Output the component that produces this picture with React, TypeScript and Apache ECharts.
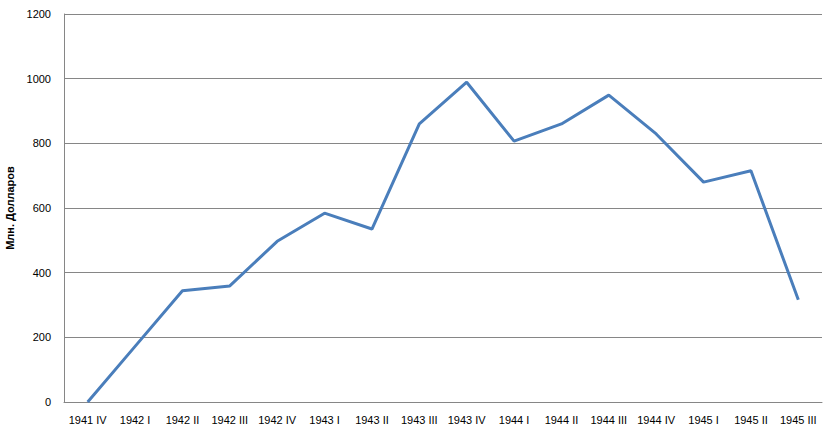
import React, { useEffect, useRef } from "react";
import * as echarts from "echarts";

const categories = [
  "1941 IV", "1942 I", "1942 II", "1942 III", "1942 IV",
  "1943 I", "1943 II", "1943 III", "1943 IV",
  "1944 I", "1944 II", "1944 III", "1944 IV",
  "1945 I", "1945 II", "1945 III",
];
const values = [0, 172, 344, 359, 497, 584, 535, 860, 989, 807, 860, 949, 829, 680, 715, 316];
const yAxisName = "Млн. Долларов";

export default function App() {
  const ref = useRef<HTMLDivElement>(null);
  useEffect(() => {
    if (!ref.current) return;
    const chart = echarts.init(ref.current, undefined, { renderer: "svg" });
    const font = "'Liberation Sans', Arial, sans-serif";
    chart.setOption({
      animation: false,
      backgroundColor: "#ffffff",
      grid: { left: 64, right: 11, top: 14, bottom: 32, containLabel: false, outerBoundsMode: "none" },
      xAxis: {
        type: "category",
        data: categories,
        boundaryGap: true,
        axisLine: { show: true, lineStyle: { color: "#868686", width: 1 } },
        axisTick: { show: false },
        axisLabel: { color: "#000", fontSize: 11, fontFamily: font, margin: 12, interval: 0 },
        splitLine: { show: false },
      },
      yAxis: {
        type: "value",
        min: 0,
        max: 1200,
        interval: 200,
        name: yAxisName,
        nameLocation: "middle",
        nameGap: 39,
        nameRotate: 90,
        nameTextStyle: { color: "#000", fontSize: 11, fontWeight: "bold", fontFamily: font },
        axisLine: { show: true, lineStyle: { color: "#868686", width: 1 } },
        axisTick: { show: false },
        axisLabel: {
          color: "#000",
          fontSize: 11,
          fontFamily: font,
          margin: 13,
          formatter: (v: number) => String(v),
        },
        splitLine: { show: true, lineStyle: { color: "#868686", width: 1 } },
      },
      series: [
        {
          type: "line",
          data: values,
          symbol: "none",
          lineStyle: { color: "#4a7ebb", width: 3 },
          itemStyle: { color: "#4a7ebb" },
        },
      ],
    });
    return () => chart.dispose();
  }, []);
  return <div ref={ref} style={{ width: 833, height: 434, position: "absolute", left: 0, top: 0 }} />;
}
